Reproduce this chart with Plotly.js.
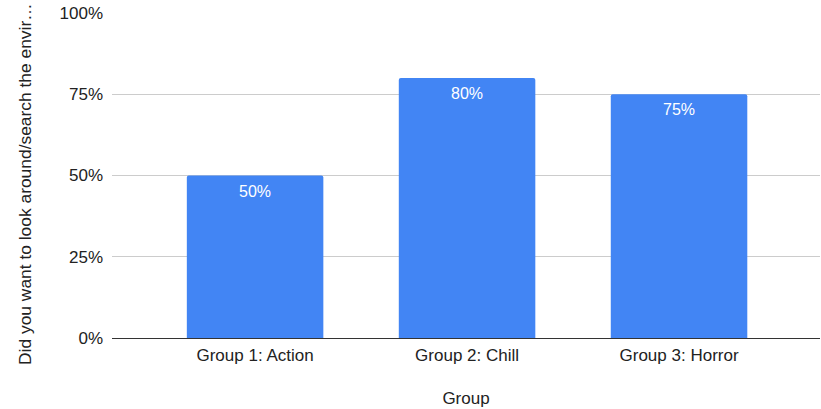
<!DOCTYPE html>
<html>
<head>
<meta charset="utf-8">
<script src="https://cdn.plot.ly/plotly-3.0.1.min.js"></script>
<style>
  html, body { margin: 0; padding: 0; background: #fff; }
  #chart { width: 821px; height: 409px; }
</style>
</head>
<body>
<div id="chart"></div>
<script>
// Share of respondents per group who wanted to look around / search the environment
const groups = ["Group 1: Action", "Group 2: Chill", "Group 3: Horror"];
const shares = [0.50, 0.80, 0.75];
const valueLabels = ["50%", "80%", "75%"];
const xTitle = "Group";
const yTitle = "Did you want to look around/search the envir…";

const font = "Arial, 'Liberation Sans', sans-serif";
const ink = "#222222";

const trace = {
  type: "bar",
  x: groups,
  y: shares,
  marker: { color: "#4285F4", cornerradius: 2 },
  width: 0.644,
  hoverinfo: "none"
};

// value labels sit just inside the top of each bar
const labels = groups.map((g, i) => ({
  x: g,
  y: shares[i],
  xref: "x",
  yref: "y",
  text: valueLabels[i],
  showarrow: false,
  yanchor: "top",
  yshift: -5,
  font: { family: font, size: 16, color: "#ffffff" }
}));

// rotated y-axis title, placed in the left margin
labels.push({
  x: 0,
  y: 0.474,
  xref: "paper",
  yref: "paper",
  xshift: -87,
  text: yTitle,
  textangle: -90,
  showarrow: false,
  xanchor: "center",
  yanchor: "middle",
  font: { family: font, size: 17.4, color: ink }
});

const layout = {
  width: 821,
  height: 409,
  margin: { l: 112, r: 1, t: 13, b: 71 },
  paper_bgcolor: "#ffffff",
  plot_bgcolor: "#ffffff",
  font: { family: font, size: 17, color: ink },
  showlegend: false,
  annotations: labels,
  xaxis: {
    type: "category",
    range: [-0.675, 2.665],
    showgrid: false,
    showline: false,
    ticks: "",
    ticklabelstandoff: 5,
    tickfont: { family: font, size: 17, color: ink },
    title: { text: xTitle, font: { family: font, size: 17, color: ink }, standoff: 28 },
    fixedrange: true
  },
  yaxis: {
    range: [0, 1],
    dtick: 0.25,
    tick0: 0,
    tickformat: ".0%",
    showgrid: true,
    gridcolor: "#cccccc",
    gridwidth: 1,
    zeroline: true,
    zerolinecolor: "#333333",
    zerolinewidth: 1,
    showline: false,
    ticks: "",
    ticklabelstandoff: 8,
    tickfont: { family: font, size: 17, color: ink },
    fixedrange: true
  }
};

Plotly.newPlot("chart", [trace], layout, { displayModeBar: false, staticPlot: true });
</script>
</body>
</html>
